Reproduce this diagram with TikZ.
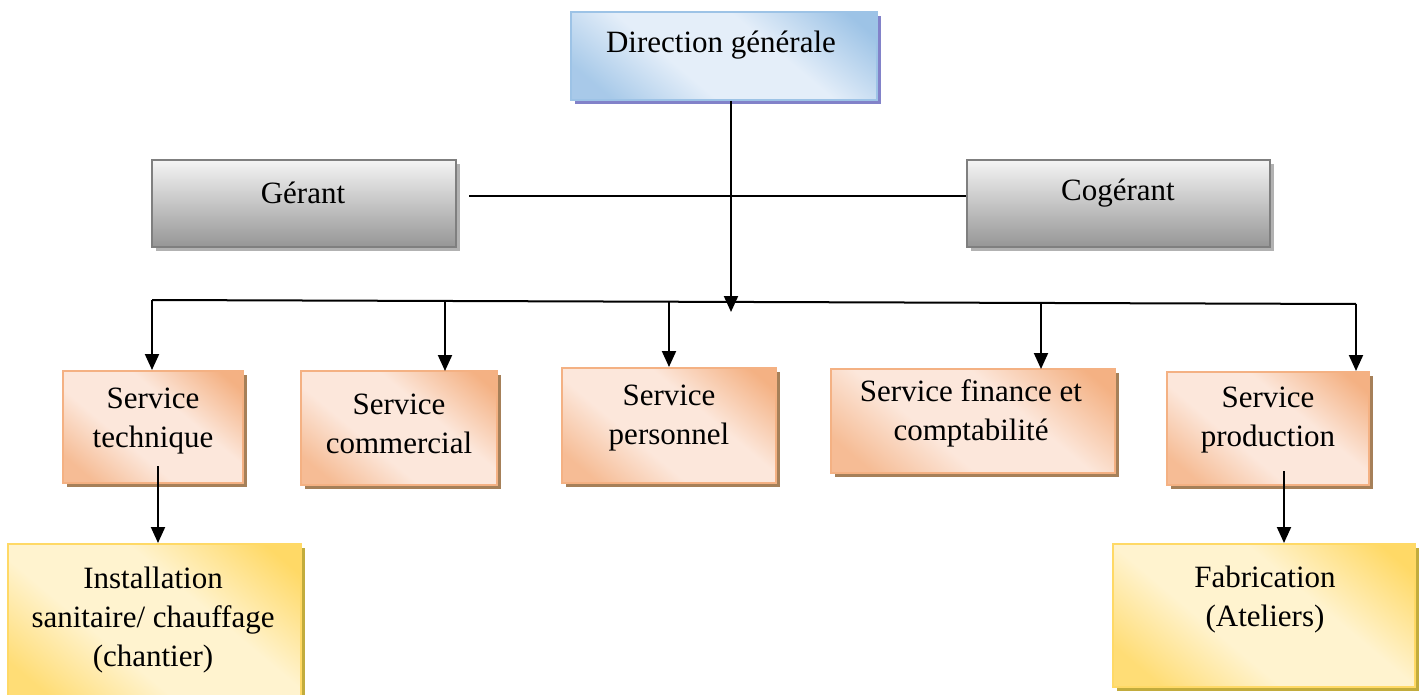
\documentclass[tikz,border=0pt]{standalone}
\usepackage{fontspec}
\setmainfont{Liberation Serif}
\usetikzlibrary{arrows.meta,shadows}

\definecolor{blueDark}{HTML}{9DC3E6}
\definecolor{blueLight}{HTML}{E4EEF9}
\definecolor{grayEdge}{HTML}{7F7F7F}
\definecolor{grayTop}{HTML}{F4F4F4}
\definecolor{grayBot}{HTML}{969696}
\definecolor{orgDark}{HTML}{F4B183}
\definecolor{orgLight}{HTML}{FCE7DB}
\definecolor{yelDark}{HTML}{FFD966}
\definecolor{yelLight}{HTML}{FFF3CF}

% diagonal fills: dark corner, wide light band, medium corner
\pgfdeclareverticalshading{blueshade}{100bp}{color(0bp)=(blueDark!85!blueLight); color(22bp)=(blueDark!85!blueLight); color(40bp)=(blueLight); color(60bp)=(blueLight); color(80bp)=(blueDark); color(100bp)=(blueDark)}
\pgfdeclareverticalshading{orgshade}{100bp}{color(0bp)=(orgDark!80!orgLight); color(22bp)=(orgDark!80!orgLight); color(40bp)=(orgLight); color(60bp)=(orgLight); color(80bp)=(orgDark); color(100bp)=(orgDark)}
\pgfdeclareverticalshading{yelshade}{100bp}{color(0bp)=(yelDark!85!yelLight); color(22bp)=(yelDark!85!yelLight); color(40bp)=(yelLight); color(60bp)=(yelLight); color(80bp)=(yelDark); color(100bp)=(yelDark)}

\tikzset{
  x=1pt, y=-1pt,
  box/.style={rectangle, draw, line width=2pt, inner sep=0pt},
  bluebox/.style={box, draw=blueDark, shading=blueshade, shading angle=-40,
    drop shadow={shadow xshift=4pt, shadow yshift=-4pt, fill=gray!60!blue!70, opacity=1}},
  graybox/.style={box, draw=grayEdge, top color=grayTop, bottom color=grayBot,
    drop shadow={shadow xshift=4pt, shadow yshift=-4pt, fill=gray!60, opacity=1}},
  orgbox/.style={box, draw=orgDark, shading=orgshade, shading angle=-40,
    drop shadow={shadow xshift=4pt, shadow yshift=-4pt, fill=brown!60!gray, opacity=1}},
  yelbox/.style={box, draw=yelDark, shading=yelshade, shading angle=-40,
    drop shadow={shadow xshift=4pt, shadow yshift=-4pt, fill=brown!50!yellow!70!gray, opacity=1}},
  txt/.style={align=center, inner sep=0pt, font=\fontsize{31}{39}\selectfont},
  link/.style={line width=2pt, draw=black},
  arr/.style={link, -{Triangle[width=14pt,length=16pt]}},
}

\begin{document}
\begin{tikzpicture}
\useasboundingbox (0,0) rectangle (1424,695);
\begin{scope}
\clip (0,0) rectangle (1424,695);

% boxes
\node[bluebox, minimum width=306pt, minimum height=88pt] (dir) at (724,56) {};
\node[graybox, minimum width=304pt, minimum height=87pt] (gerant) at (304,203.5) {};
\node[graybox, minimum width=303pt, minimum height=87pt] (cogerant) at (1118.5,203.5) {};
\node[orgbox, minimum width=180pt, minimum height=112pt] (tech) at (153,427) {};
\node[orgbox, minimum width=196pt, minimum height=114pt] (comm) at (399,428) {};
\node[orgbox, minimum width=214pt, minimum height=115pt] (pers) at (669,425.5) {};
\node[orgbox, minimum width=284pt, minimum height=104pt] (fin) at (973,421) {};
\node[orgbox, minimum width=202pt, minimum height=113pt] (prod) at (1268,428.5) {};
\node[yelbox, minimum width=293pt, minimum height=160pt] (inst) at (154.5,624) {};
\node[yelbox, minimum width=302pt, minimum height=143pt] (fab) at (1264,615.5) {};

% labels
\node[txt] (dirT) at (721,45) {Direction générale};
\node[txt] (gerantT) at (303,193) {Gérant};
\node[txt] (cogerantT) at (1118,193) {Cogérant};
\node[txt] (techT) at (153,421) {Service\\technique};
\node[txt] (commT) at (399,424) {Service\\commercial};
\node[txt] (persT) at (669,418) {Service\\personnel};
\node[txt] (finT) at (971,413) {Service finance et\\comptabilité};
\node[txt] (prodT) at (1268,420) {Service\\production};
\node[txt] (instT) at (153,620) {Installation\\sanitaire/ chauffage\\(chantier)};
\node[txt] (fabT) at (1265,600) {Fabrication\\(Ateliers)};

% bus coordinates
\coordinate (busL) at (152,300);
\coordinate (busR) at (1356,304);
\coordinate (hub) at (731,312);

% connectors
\draw[link] ([xshift=12pt,yshift=7pt]gerant.east) -- ([yshift=7pt]cogerant.west);
\draw[arr] ([xshift=7pt]dir.south) -- (hub);
\draw[link] (busL) -- (busR);
\draw[arr] (busL) -- (busL |- tech.north);
\draw[arr] (445,301) -- (445,371);
\draw[arr] (669,302) -- (pers.north);
\draw[arr] (1041,303) -- (1041,369);
\draw[arr] (busR) -- (busR |- prod.north);
\draw[arr] ([xshift=5pt,yshift=18pt]tech.south) -- ([xshift=3.5pt]inst.north);
\draw[arr] ([xshift=16pt,yshift=15pt]prod.south) -- ([xshift=20pt]fab.north);
\end{scope}
\end{tikzpicture}
\end{document}
